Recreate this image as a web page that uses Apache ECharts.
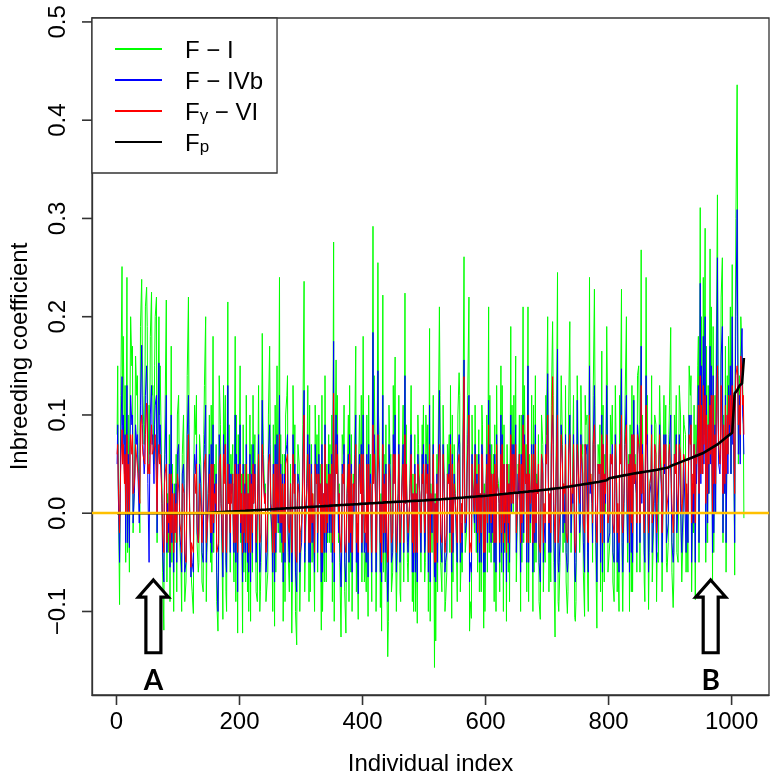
<!DOCTYPE html>
<html><head><meta charset="utf-8">
<script src="https://cdn.jsdelivr.net/npm/echarts@6/dist/echarts.min.js"></script>
<style>html,body{margin:0;padding:0;background:#fff}#c{width:777px;height:781px}</style>
</head><body><div id="c"></div>
<script>
// Individual indices: three interleaved samples of individuals (1,5,9,... / 2,6,10,... / 3,7,11,...) plus the last one
const indexSetA = [];
for (let i = 1; i <= 1017; i += 4) indexSetA.push(i);
indexSetA.push(1020);
const indexSetC = [];
for (let i = 2; i <= 1018; i += 4) indexSetC.push(i);
const indexSetB = [];
for (let i = 3; i <= 1019; i += 4) indexSetB.push(i);

// F - I (green), set A
const fI_A = [
 0.08,-0.093,0.251,0.07,0.24, -0.06,0.15,0.03,0.12,0.02, 0.238,0.07,0.23,0.11,0.225, 0.05,0.22,0.2,0.06,-0.119, 0.217,-0.04,0.17,-0.1,0.06,
 0.12,-0.06,0.1,-0.07,0.22, -0.04,-0.102,0.08,-0.06,0.05, -0.08,0.2,0.02,-0.05,0.18, 0.01,-0.12,0.09,-0.108,0.12, 0.215,-0.06,0.07,0.18,-0.122,
 0.15,-0.122,0.05,-0.08,0.1, -0.06,0.08,-0.09,-0.1,0.183, 0.02,-0.07,0.17,-0.04,-0.115, 0.15,0.24,-0.05,0.06,0.12, -0.08,-0.122,0.04,-0.134,0.05,
 -0.06,0.236,0.03,-0.09,0.07, -0.05,0.04,0.1,-0.119,0.02, -0.07,0.08,-0.04,0.276,0.156, -0.03,-0.126,0.06,-0.122,0.1, -0.06,0.04,0.17,-0.108,0.03,
 0.18,-0.04,-0.105,0.06,0.292, 0.04,0.255,-0.096,0.222,-0.07, -0.146,0.05,-0.06,0.159,-0.02, -0.08,0.07,0.224,-0.05,0.03, -0.09,0.08,-0.112,0.02,0.09,
 -0.07,0.05,0.188,-0.04,-0.157, 0.06,0.21,-0.08,0.03,-0.06, 0.08,-0.107,0.07,-0.05,0.143, -0.03,0.261,-0.02,0.22,-0.107, 0.05,-0.04,0.085,-0.08,-0.117,
 0.04,0.21,-0.05,0.06,-0.1, 0.03,0.15,-0.1,0.02,-0.06, 0.19,0.0,0.16,0.05,-0.1, 0.21,0.04,0.21,-0.03,-0.1, 0.14,0.02,-0.108,0.07,-0.05,
 0.2,0.02,0.195,-0.126,0.245, -0.05,0.07,-0.03,-0.102,0.195, 0.02,-0.106,0.14,-0.04,0.06, -0.105,0.1,0.24,0.01,0.228, -0.117,0.05,0.165,-0.07,0.19,
 -0.06,0.07,-0.09,0.03,-0.1, 0.228,0.01,0.2,0.06,-0.08, 0.12,0.02,0.15,0.268,0.0, 0.24,-0.098,0.04,-0.07,0.09, -0.05,0.06,-0.08,0.11,-0.03,
 0.189,-0.096,0.06,-0.05,0.1, -0.02,0.08,-0.06,0.12,0.03, -0.088,0.15,0.311,0.05,0.29, -0.03,0.269,-0.068,0.12,0.324, 0.05,0.26,0.02,0.14,0.1,
 0.253,-0.063,0.436,0.14,0.16,-0.005
];
// F - I (green), set B
const fI_B = [
 0.03,0.12,0.18,-0.05,0.1, 0.2,-0.02,0.16,0.06,0.19, 0.12,0.21,0.04,0.18,0.13, 0.2,0.08,0.15,-0.06,0.1, 0.02,-0.09,0.05,-0.03,0.1,
 -0.03,0.06,-0.09,0.14,0.0, -0.08,0.11,-0.03,0.08,-0.07, 0.13,-0.04,0.1,-0.06,0.05, -0.09,0.14,-0.02,0.06,-0.1, 0.09,0.03,-0.07,0.1,0.0,
 0.04,-0.06,0.12,-0.1,0.07, 0.01,-0.08,0.13,-0.05,0.06, -0.09,0.1,0.0,0.09,-0.06, -0.02,0.08,-0.11,0.1,-0.04, 0.05,0.13,-0.1,0.07,-0.06,
 0.09,-0.04,0.13,-0.08,0.02, 0.11,-0.06,0.05,-0.1,0.14, -0.03,0.07,-0.09,0.04,0.12, -0.05,0.08,-0.08,0.03,0.13, -0.1,0.06,-0.02,0.1,-0.07,
 -0.07,0.1,0.02,-0.09,0.14, -0.05,0.08,-0.12,0.06,-0.03, 0.11,-0.08,0.05,-0.1,0.12, 0.0,-0.07,0.09,-0.04,0.13, -0.1,0.03,0.07,-0.06,0.11,
 0.1,-0.1,0.03,0.12,-0.13, 0.07,-0.05,0.11,-0.09,0.04, 0.13,-0.07,0.02,0.1,-0.08, 0.06,-0.04,0.12,-0.09,0.05, 0.11,-0.06,0.02,0.09,-0.1,
 -0.06,0.12,-0.03,0.09,0.04, -0.08,0.13,-0.04,0.07,-0.09, 0.11,0.02,-0.07,0.1,-0.05, 0.13,-0.08,0.06,0.12,-0.06, 0.04,-0.09,0.1,-0.03,0.08,
 -0.08,0.11,-0.05,0.08,-0.1, 0.14,0.03,-0.07,0.1,-0.04, 0.12,-0.09,0.05,0.13,-0.06, 0.09,-0.1,0.04,0.12,-0.03, 0.07,-0.08,0.11,0.0,-0.06,
 0.1,-0.07,0.13,-0.04,0.08, -0.1,0.12,-0.05,0.09,-0.08, 0.06,0.14,-0.06,0.1,-0.09, 0.12,0.03,-0.07,0.1,-0.04, 0.13,-0.08,0.05,-0.06,0.11,
 -0.06,0.1,-0.04,0.13,-0.07, 0.09,0.02,0.15,-0.08,0.11, 0.04,-0.05,0.2,0.08,0.17, 0.02,0.21,-0.04,0.16,0.06, 0.22,0.1,-0.06,0.18,0.04,
 0.12,0.3,0.05,0.2,0.1
];
// F - I (green), set C
const fI_C = [
 0.15,0.02,0.09,0.13,-0.04, 0.11,0.17,0.07,0.14,-0.02, 0.16,0.09,0.19,0.06,0.12, 0.15,-0.03,0.1,0.02,0.05, -0.07,0.08,-0.05,0.03,-0.08,
 0.05,-0.1,0.03,-0.02,0.09, -0.07,0.06,0.12,-0.05,0.0, 0.08,-0.09,0.04,0.11,-0.04, 0.07,-0.06,0.02,0.13,-0.08, 0.01,0.06,-0.03,-0.09,0.08,
 -0.03,0.09,-0.07,0.04,-0.11, 0.12,0.0,0.05,-0.08,0.1, 0.03,-0.06,0.07,-0.1,0.11, 0.02,-0.04,0.06,-0.09,0.14, -0.02,-0.07,0.09,0.01,-0.1,
 0.02,-0.08,0.06,0.11,-0.05, -0.1,0.08,0.01,0.12,-0.07, 0.05,-0.03,0.1,-0.11,0.07, 0.03,-0.06,0.11,-0.02,-0.09, 0.08,0.0,-0.08,0.06,0.12,
 0.04,-0.08,0.12,-0.03,0.07, -0.1,0.1,0.02,-0.06,0.09, -0.11,0.06,0.13,-0.04,0.03, -0.09,0.11,0.01,-0.07,0.08, 0.04,-0.1,0.1,-0.03,0.05,
 -0.05,0.09,-0.11,0.06,0.02, -0.08,0.12,0.0,-0.1,0.07, -0.04,0.1,0.04,-0.09,0.12, -0.06,0.03,0.08,-0.12,0.1, -0.02,0.06,-0.08,0.11,0.03,
 0.1,-0.04,0.07,-0.09,0.13, 0.01,-0.06,0.09,-0.11,0.05, 0.0,0.12,-0.07,0.04,0.1, -0.03,0.07,-0.09,0.02,0.11, -0.05,0.08,0.0,-0.08,0.12,
 0.06,-0.07,0.12,0.0,-0.09, 0.08,-0.04,0.13,-0.08,0.05, 0.02,-0.11,0.1,-0.02,0.07, 0.12,-0.07,0.03,-0.05,0.11, 0.0,0.09,-0.1,0.06,0.13,
 -0.03,0.11,0.02,-0.08,0.12, -0.05,0.07,0.0,-0.1,0.13, 0.04,-0.06,0.09,0.02,-0.07, 0.11,-0.04,0.14,0.01,-0.09, 0.07,0.03,0.12,-0.05,0.08,
 0.03,-0.07,0.12,0.05,-0.03, 0.1,-0.06,0.07,0.14,-0.02, 0.09,0.18,0.04,0.24,-0.05, 0.13,0.07,0.19,0.0,0.14, 0.08,-0.03,0.17,0.06,0.21,
 0.1,0.18,0.22,0.06,0.13
];
// F - IVb (blue), set A
const fIVb_A = [
 0.05,-0.05,0.139,0.04,0.13, -0.035,0.09,0.02,0.07,-0.01, 0.171,0.04,0.15,-0.05,0.13, 0.03,0.12,0.153,0.04,-0.07, 0.12,-0.02,0.1,-0.06,0.03,
 0.07,-0.04,0.05,-0.05,0.12, -0.065,-0.06,0.04,-0.03,0.03, -0.05,0.11,0.02,-0.03,0.09, 0.0,-0.1,0.05,-0.065,0.07, 0.13,-0.04,0.03,0.1,-0.08,
 0.09,-0.07,0.03,-0.05,0.06, -0.04,0.05,-0.05,-0.06,0.115, 0.01,-0.04,0.09,-0.02,-0.07, 0.08,0.12,-0.03,0.04,0.07, -0.05,-0.07,0.03,-0.08,0.03,
 -0.03,0.125,0.02,-0.05,0.05, -0.03,0.03,0.06,-0.07,0.02, -0.04,0.05,-0.02,0.175,0.1, -0.02,-0.075,0.04,-0.07,0.06, -0.04,0.03,0.1,-0.082,0.02,
 0.1,-0.02,-0.065,0.04,0.184, 0.02,0.145,-0.06,0.12,-0.04, -0.09,0.04,-0.04,0.1,-0.01, -0.05,0.05,0.14,-0.03,0.02, -0.06,0.05,-0.07,0.02,0.06,
 -0.04,0.03,0.11,-0.02,-0.065, 0.04,0.125,-0.05,0.02,-0.04, 0.05,-0.06,0.04,-0.03,0.08, -0.01,0.156,-0.01,0.12,-0.06, 0.03,-0.02,0.06,-0.05,-0.06,
 0.03,0.115,-0.03,0.04,-0.06, 0.02,0.1,-0.06,0.02,-0.03, 0.1,0.01,0.09,0.04,-0.06, 0.1,0.03,0.15,-0.01,-0.06, 0.09,0.02,-0.07,0.05,-0.03,
 0.142,0.02,0.1,-0.07,0.167, -0.03,0.05,-0.01,-0.06,0.1, 0.02,-0.06,0.115,-0.02,0.04, -0.06,0.07,0.15,0.01,0.13, -0.07,0.04,0.1,-0.03,0.13,
 -0.03,0.05,-0.05,0.03,-0.06, 0.147,0.01,0.12,0.05,-0.04, 0.115,0.02,0.09,0.17,0.01, 0.14,-0.06,0.03,-0.04,0.07, -0.02,0.04,-0.05,0.08,-0.01,
 0.1,-0.05,0.05,-0.02,0.08, 0.0,0.06,-0.03,0.08,0.03, -0.05,0.1,0.234,0.04,0.2, -0.01,0.17,-0.04,0.09,0.26, 0.04,0.19,0.02,0.1,0.08,
 0.2,-0.03,0.309,0.12,0.188,0.06
];
// F - IVb (blue), set B
const fIVb_B = [
 0.02,0.07,0.1,-0.03,0.06, 0.12,-0.01,0.09,0.04,0.11, 0.07,0.12,0.03,0.1,0.08, 0.11,0.05,0.09,-0.04,0.06, 0.01,-0.055,0.03,-0.02,0.06,
 -0.02,0.04,-0.06,0.08,0.0, -0.05,0.06,-0.02,0.05,-0.04, 0.07,-0.03,0.06,-0.04,0.03, -0.06,0.08,-0.01,0.04,-0.06, 0.05,0.02,-0.04,0.06,0.0,
 0.02,-0.04,0.07,-0.06,0.04, 0.01,-0.05,0.08,-0.03,0.04, -0.06,0.06,0.0,0.05,-0.04, -0.01,0.05,-0.07,0.06,-0.02, 0.03,0.08,-0.06,0.04,-0.04,
 0.05,-0.02,0.08,-0.05,0.01, 0.07,-0.04,0.03,-0.06,0.09, -0.02,0.04,-0.05,0.03,0.08, -0.03,0.05,-0.05,0.02,0.08, -0.06,0.04,-0.01,0.06,-0.04,
 -0.04,0.06,0.01,-0.06,0.08, -0.03,0.05,-0.07,0.04,-0.02, 0.07,-0.05,0.03,-0.06,0.07, 0.0,-0.04,0.05,-0.02,0.08, -0.06,0.02,0.04,-0.04,0.07,
 0.06,-0.06,0.02,0.07,-0.07, 0.04,-0.03,0.07,-0.05,0.03, 0.08,-0.04,0.01,0.06,-0.05, 0.04,-0.02,0.07,-0.05,0.03, 0.07,-0.04,0.02,0.06,-0.06,
 -0.03,0.07,-0.02,0.06,0.03, -0.05,0.08,-0.02,0.05,-0.05, 0.07,0.02,-0.04,0.06,-0.03, 0.08,-0.05,0.04,0.07,-0.03, 0.03,-0.05,0.06,-0.01,0.05,
 -0.04,0.07,-0.02,0.05,-0.06, 0.09,0.02,-0.04,0.06,-0.02, 0.08,-0.05,0.04,0.08,-0.03, 0.06,-0.06,0.03,0.07,-0.01, 0.05,-0.05,0.07,0.01,-0.03,
 0.06,-0.04,0.08,-0.02,0.05, -0.06,0.08,-0.03,0.06,-0.05, 0.04,0.09,-0.03,0.07,-0.05, 0.08,0.02,-0.04,0.07,-0.02, 0.09,-0.05,0.04,-0.03,0.07,
 -0.03,0.06,-0.02,0.08,-0.04, 0.06,0.02,0.1,-0.05,0.07, 0.03,-0.03,0.15,0.05,0.12, 0.02,0.15,-0.02,0.11,0.05, 0.16,0.07,-0.03,0.13,0.04,
 0.09,0.2,0.06,0.15,0.09
];
// F - IVb (blue), set C
const fIVb_C = [
 0.09,0.01,0.05,0.08,-0.03, 0.07,0.1,0.04,0.08,-0.01, 0.09,0.05,0.11,0.04,0.07, 0.09,-0.02,0.06,0.01,0.03, -0.04,0.05,-0.03,0.02,-0.05,
 0.03,-0.06,0.02,-0.01,0.05, -0.04,0.04,0.07,-0.03,0.0, 0.05,-0.05,0.02,0.07,-0.02, 0.04,-0.04,0.01,0.08,-0.05, 0.01,0.04,-0.02,-0.05,0.05,
 -0.02,0.05,-0.04,0.02,-0.07, 0.07,0.0,0.03,-0.05,0.06, 0.02,-0.04,0.04,-0.06,0.07, 0.01,-0.02,0.04,-0.05,0.08, -0.01,-0.04,0.05,0.01,-0.06,
 0.01,-0.05,0.04,0.07,-0.03, -0.06,0.05,0.01,0.07,-0.04, 0.03,-0.02,0.06,-0.07,0.04, 0.02,-0.04,0.07,-0.01,-0.05, 0.05,0.0,-0.05,0.04,0.07,
 0.02,-0.05,0.07,-0.02,0.04, -0.06,0.06,0.01,-0.04,0.05, -0.07,0.04,0.08,-0.02,0.02, -0.05,0.07,0.01,-0.04,0.05, 0.02,-0.06,0.06,-0.02,0.03,
 -0.03,0.05,-0.07,0.04,0.01, -0.05,0.07,0.0,-0.06,0.04, -0.02,0.06,0.02,-0.05,0.07, -0.04,0.02,0.05,-0.07,0.06, -0.01,0.04,-0.05,0.07,0.02,
 0.06,-0.02,0.04,-0.05,0.08, 0.01,-0.04,0.05,-0.07,0.03, 0.0,0.07,-0.04,0.02,0.06, -0.02,0.04,-0.05,0.01,0.07, -0.03,0.05,0.0,-0.05,0.07,
 0.04,-0.04,0.07,0.0,-0.05, 0.05,-0.02,0.08,-0.05,0.03, 0.01,-0.07,0.06,-0.01,0.04, 0.07,-0.04,0.02,-0.03,0.07, 0.0,0.05,-0.06,0.04,0.08,
 -0.02,0.07,0.01,-0.05,0.07, -0.03,0.04,0.0,-0.06,0.08, 0.03,-0.04,0.06,0.01,-0.04, 0.07,-0.02,0.09,0.01,-0.05, 0.05,0.02,0.08,-0.03,0.05,
 0.02,-0.04,0.08,0.03,-0.02, 0.06,-0.04,0.05,0.1,-0.01, 0.06,0.13,0.03,0.18,-0.03, 0.09,0.05,0.14,0.0,0.1, 0.06,-0.02,0.12,0.04,0.15,
 0.07,0.13,0.16,0.05,0.1
];
// F_gamma - VI (red), set A
const fGammaVI_A = [
 0.06,-0.02,0.085,0.03,0.08, 0.0,0.06,0.03,0.07,0.04, 0.1,0.06,0.112,0.05,0.09, 0.06,0.08,0.07,0.03,-0.04, 0.05,-0.01,0.04,-0.04,0.01,
 0.04,-0.02,0.03,-0.05,0.08, -0.055,-0.04,0.02,-0.03,0.03, -0.03,0.06,0.0,-0.02,0.05, 0.01,-0.04,0.06,-0.04,0.07, 0.05,-0.02,0.04,0.05,-0.04,
 0.05,-0.04,0.02,-0.03,0.04, -0.02,0.04,-0.03,-0.03,0.07, 0.01,-0.02,0.06,0.0,-0.04, 0.05,0.08,-0.01,0.03,0.05, -0.02,-0.04,0.02,-0.05,0.02,
 -0.01,0.1,0.02,-0.03,0.04, -0.01,0.03,0.04,-0.04,0.02, -0.02,0.04,0.0,0.122,0.07, 0.0,-0.04,0.03,-0.04,0.05, -0.02,0.03,0.07,-0.04,0.02,
 0.06,0.0,-0.04,0.03,0.09, 0.02,0.08,-0.03,0.07,-0.02, -0.05,0.03,-0.02,0.06,0.01, -0.03,0.04,0.08,-0.01,0.02, -0.03,0.04,-0.04,0.02,0.04,
 -0.02,0.02,0.07,0.0,-0.05, 0.03,0.07,-0.03,0.02,-0.02, 0.04,-0.04,0.03,-0.01,0.06, 0.01,0.139,0.0,0.1,-0.04, 0.03,0.0,0.05,-0.02,-0.04,
 0.03,0.09,-0.01,0.04,-0.03, 0.02,0.06,-0.03,0.02,-0.01, 0.08,0.01,0.07,0.03,-0.03, 0.09,0.03,0.1,0.01,-0.03, 0.07,0.02,-0.04,0.04,-0.01,
 0.1,0.02,0.139,-0.03,0.1, 0.0,0.05,0.02,-0.03,0.08, 0.03,-0.03,0.07,0.01,0.05, -0.02,0.06,0.1,0.02,0.09, -0.03,0.04,0.08,0.0,0.08,
 0.0,0.05,-0.02,0.03,-0.03, 0.1,0.02,0.09,0.05,-0.01, 0.08,0.03,0.07,0.13,0.02, 0.11,-0.02,0.04,-0.01,0.06, 0.01,0.04,-0.02,0.07,0.02,
 0.07,-0.02,0.04,0.0,0.06, 0.02,0.05,0.0,0.07,0.04, -0.01,0.08,0.14,0.04,0.12, 0.02,0.11,0.0,0.08,0.15, 0.05,0.13,0.03,0.1,0.09,
 0.13,0.02,0.15,0.11,0.14,0.08
];
// F_gamma - VI (red), set B
const fGammaVI_B = [
 0.03,0.05,0.07,0.0,0.05, 0.08,0.02,0.07,0.04,0.09, 0.06,0.08,0.04,0.07,0.06, 0.08,0.05,0.06,-0.02,0.04, 0.0,-0.04,0.02,-0.02,0.04,
 -0.01,0.03,-0.04,0.05,0.0, -0.03,0.04,-0.01,0.03,-0.03, 0.05,-0.02,0.04,-0.02,0.02, -0.04,0.05,0.0,0.03,-0.04, 0.03,0.01,-0.03,0.04,0.0,
 0.02,-0.02,0.05,-0.04,0.03, 0.01,-0.03,0.06,-0.02,0.03, -0.04,0.05,0.01,0.04,-0.02, 0.0,0.04,-0.04,0.05,-0.01, 0.03,0.06,-0.04,0.03,-0.02,
 0.04,0.0,0.06,-0.03,0.02, 0.05,-0.02,0.03,-0.04,0.07, -0.01,0.04,-0.03,0.02,0.06, -0.02,0.04,-0.03,0.02,0.06, -0.04,0.03,0.0,0.05,-0.03,
 -0.02,0.05,0.01,-0.04,0.06, -0.01,0.04,-0.05,0.03,0.0, 0.05,-0.03,0.03,-0.04,0.06, 0.01,-0.03,0.05,-0.01,0.06, -0.04,0.02,0.04,-0.02,0.05,
 0.05,-0.04,0.02,0.06,-0.05, 0.04,-0.02,0.06,-0.03,0.03, 0.07,-0.02,0.02,0.05,-0.03, 0.04,-0.01,0.06,-0.03,0.03, 0.06,-0.02,0.02,0.05,-0.04,
 -0.01,0.06,0.0,0.05,0.03, -0.03,0.07,-0.01,0.05,-0.03, 0.06,0.02,-0.02,0.06,-0.01, 0.07,-0.03,0.04,0.06,-0.02, 0.03,-0.03,0.06,0.01,0.05,
 -0.01,0.06,0.01,0.05,-0.03, 0.08,0.03,-0.02,0.06,0.0, 0.07,-0.03,0.04,0.07,-0.01, 0.06,-0.03,0.04,0.07,0.01, 0.05,-0.02,0.07,0.02,-0.01,
 0.06,-0.01,0.07,0.01,0.05, -0.02,0.07,0.0,0.06,-0.02, 0.05,0.08,-0.01,0.06,-0.02, 0.07,0.03,-0.01,0.07,0.01, 0.08,-0.02,0.05,0.0,0.07,
 0.01,0.06,0.02,0.07,0.0, 0.06,0.03,0.08,-0.01,0.07, 0.05,0.02,0.11,0.07,0.1, 0.05,0.12,0.03,0.1,0.07, 0.13,0.09,0.04,0.12,0.08,
 0.1,0.14,0.09,0.16,0.12
];
// F_gamma - VI (red), set C
const fGammaVI_C = [
 0.07,0.02,0.05,0.06,0.0, 0.06,0.08,0.04,0.07,0.01, 0.07,0.05,0.09,0.04,0.06, 0.07,0.0,0.05,0.01,0.03, -0.03,0.04,-0.02,0.02,-0.03,
 0.02,-0.04,0.02,0.0,0.04, -0.03,0.03,0.05,-0.02,0.0, 0.04,-0.03,0.02,0.05,-0.01, 0.03,-0.03,0.01,0.06,-0.03, 0.01,0.03,-0.01,-0.03,0.04,
 -0.01,0.04,-0.03,0.02,-0.04, 0.05,0.01,0.03,-0.03,0.05, 0.02,-0.02,0.04,-0.04,0.05, 0.01,-0.01,0.03,-0.03,0.06, 0.0,-0.02,0.04,0.01,-0.04,
 0.01,-0.03,0.03,0.05,-0.01, -0.04,0.04,0.01,0.05,-0.02, 0.03,0.0,0.05,-0.04,0.04, 0.02,-0.02,0.05,0.0,-0.03, 0.04,0.01,-0.03,0.03,0.06,
 0.02,-0.03,0.05,0.0,0.03, -0.04,0.05,0.01,-0.02,0.04, -0.04,0.03,0.06,-0.01,0.02, -0.03,0.05,0.01,-0.02,0.04, 0.02,-0.04,0.05,0.0,0.03,
 -0.01,0.04,-0.04,0.03,0.01, -0.03,0.06,0.01,-0.04,0.04, 0.0,0.05,0.02,-0.03,0.06, -0.02,0.02,0.04,-0.04,0.05, 0.0,0.03,-0.03,0.06,0.02,
 0.05,0.0,0.04,-0.03,0.07, 0.01,-0.02,0.05,-0.04,0.03, 0.01,0.06,-0.02,0.03,0.05, 0.0,0.04,-0.03,0.02,0.06, -0.01,0.05,0.01,-0.03,0.06,
 0.04,-0.02,0.06,0.01,-0.03, 0.05,0.0,0.07,-0.02,0.04, 0.02,-0.04,0.06,0.01,0.04, 0.07,-0.02,0.03,-0.01,0.06, 0.01,0.05,-0.03,0.04,0.07,
 0.0,0.06,0.02,-0.02,0.07, -0.01,0.05,0.02,-0.03,0.08, 0.03,-0.01,0.06,0.02,-0.02, 0.07,0.0,0.08,0.02,-0.02, 0.06,0.03,0.07,0.0,0.06,
 0.03,-0.01,0.07,0.04,0.01, 0.06,0.0,0.05,0.09,0.02, 0.06,0.11,0.04,0.13,0.01, 0.09,0.06,0.12,0.03,0.1, 0.07,0.02,0.11,0.06,0.12,
 0.09,0.12,0.14,0.08,0.11
];
// F_p (black, pedigree), on set A indices
const fP = [
 0,0,0,0,0, 0,0,0,0,0, 0,0,0,0,0, 0,0,0,0,0, 0,0,0,0,0,
 0,0,0,0,0, 0,0,0,0,0, 0,0,0.0003,0.0005,0.0007, 0.0009,0.001,0.0012,0.0013,0.0015, 0.0016,0.0017,0.0018,0.0019,0.002,
 0.0021,0.0023,0.0024,0.0026,0.0027, 0.0029,0.003,0.0032,0.0033,0.0035, 0.0036,0.0038,0.0039,0.0041,0.0042, 0.0044,0.0045,0.0047,0.0048,0.005, 0.0051,0.0053,0.0054,0.0056,0.0057,
 0.0059,0.006,0.0062,0.0063,0.0065, 0.0066,0.0068,0.0069,0.0071,0.0072, 0.0074,0.0075,0.0077,0.0078,0.008, 0.0081,0.0083,0.0084,0.0086,0.0087, 0.0089,0.009,0.0092,0.0093,0.0095,
 0.0096,0.0098,0.0099,0.0101,0.0102, 0.0104,0.0105,0.0107,0.0108,0.011, 0.0111,0.0112,0.0114,0.0115,0.0116, 0.0118,0.0119,0.012,0.0122,0.0123, 0.0124,0.0126,0.0127,0.0128,0.013,
 0.0131,0.0133,0.0134,0.0136,0.0137, 0.0139,0.014,0.0142,0.0144,0.0146, 0.0148,0.015,0.0152,0.0154,0.0156, 0.0158,0.016,0.0162,0.0164,0.0166, 0.0168,0.017,0.0172,0.0174,0.0176,
 0.0178,0.018,0.0183,0.0185,0.0188, 0.019,0.0193,0.0195,0.0198,0.02, 0.0203,0.0205,0.0208,0.021,0.0213, 0.0215,0.0218,0.022,0.0223,0.0225, 0.0228,0.023,0.0233,0.0236,0.0239,
 0.0242,0.0245,0.0248,0.0251,0.0254, 0.0257,0.026,0.0264,0.0268,0.0272, 0.0276,0.028,0.0284,0.0288,0.0292, 0.0296,0.03,0.0304,0.0308,0.0312, 0.0316,0.032,0.0325,0.033,0.0335,
 0.0355,0.036,0.0365,0.037,0.0375, 0.038,0.0385,0.039,0.0395,0.04, 0.0404,0.0408,0.0412,0.0416,0.042, 0.0424,0.0428,0.0432,0.0436,0.044, 0.0445,0.045,0.0455,0.046,0.0466,
 0.048,0.049,0.05,0.051,0.052, 0.053,0.054,0.055,0.056,0.057, 0.058,0.059,0.06,0.061,0.0625, 0.064,0.0655,0.067,0.0685,0.07, 0.072,0.074,0.076,0.078,0.08,
 0.082,0.122,0.125,0.13,0.132,0.158
];

const seriesNames = ['F − I', 'F − IVb', 'Fγ − VI', 'Fp'];
const seriesColors = ['#00ff00', '#0000ff', '#ff0000', '#000000'];
const xTicks = [0, 200, 400, 600, 800, 1000];
const yTicks = [-0.1, 0, 0.1, 0.2, 0.3, 0.4, 0.5];
const xRange = [-39.8, 1060.8];
const yRange = [-0.185, 0.504];
const referenceLineY = 0;
const arrowX = [60, 966];
const arrowLabels = ['A', 'B'];
const arrowTopY = -0.068, arrowBottomY = -0.142, arrowLabelY = -0.171;

// sanity check of array lengths
[[fI_A, 256], [fIVb_A, 256], [fGammaVI_A, 256], [fP, 256],
 [fI_B, 255], [fIVb_B, 255], [fGammaVI_B, 255],
 [fI_C, 255], [fIVb_C, 255], [fGammaVI_C, 255]].forEach(([a, n], k) => {
  if (a.length !== n) throw new Error('array ' + k + ' has length ' + a.length + ' expected ' + n);
});

const FONT = '"Liberation Sans", Arial, Helvetica, sans-serif';
// merge the interleaved samples into one ordered list of [index, value]
function merge(a, c, b) {
  const out = [];
  for (let i = 0; i < indexSetA.length; i++) {
    out.push([indexSetA[i], a[i]]);
    if (i < indexSetC.length) out.push([indexSetC[i], c[i]]);
    if (i < indexSetB.length) out.push([indexSetB[i], b[i]]);
  }
  return out;
}
const seriesData = [
  merge(fI_A, fI_C, fI_B),
  merge(fIVb_A, fIVb_C, fIVb_B),
  merge(fGammaVI_A, fGammaVI_C, fGammaVI_B),
  indexSetA.map((x, i) => [x, fP[i]])
];

const chart = echarts.init(document.getElementById('c'), null, {renderer: 'canvas'});

const legendRich = {
  m: {fontSize: 24, fontFamily: FONT, color: '#000', lineHeight: 28, verticalAlign: 'bottom'},
  s: {fontSize: 17, fontFamily: FONT, color: '#000', lineHeight: 17, verticalAlign: 'bottom'}
};
const legendLabel = {
  'F − I': '{m|F − I}',
  'F − IVb': '{m|F − IVb}',
  'Fγ − VI': '{m|F}{s|γ}{m| − VI}',
  'Fp': '{m|F}{s|p}'
};

const series = seriesData.map((d, k) => ({
  name: seriesNames[k],
  type: 'line',
  data: d,
  showSymbol: false,
  symbol: 'none',
  silent: true,
  lineStyle: {color: seriesColors[k], width: k === 3 ? 2.6 : 1.0},
  itemStyle: {color: seriesColors[k]},
  z: 2 + k
}));
// zero reference line drawn on top of everything
series.push({
  name: 'zero', type: 'line', data: [], silent: true, z: 10,
  markLine: {
    silent: true, symbol: ['none', 'none'], label: {show: false}, z: 10,
    lineStyle: {color: '#ffc000', width: 2.4, type: 'solid'},
    data: [{yAxis: referenceLineY}]
  }
});

const axisLineStyle = {show: true, onZero: false, lineStyle: {color: '#333', width: 1.3}};

chart.setOption({
  animation: false,
  backgroundColor: '#fff',
  grid: {left: 92, top: 18, right: 8, bottom: 86, show: true, borderColor: '#333', borderWidth: 1.3, backgroundColor: 'transparent'},
  legend: {
    orient: 'vertical', left: 92, top: 18,
    padding: [21, 14, 17, 23],
    itemGap: 7, itemWidth: 47, itemHeight: 2, icon: 'rect',
    backgroundColor: '#fff', borderColor: '#333', borderWidth: 1.3, borderRadius: 0,
    data: seriesNames,
    formatter: n => legendLabel[n],
    textStyle: {fontSize: 24, fontFamily: FONT, color: '#000', padding: [0, 0, 0, 18], rich: legendRich},
    selectedMode: false, z: 20
  },
  xAxis: {
    type: 'value', min: xRange[0], max: xRange[1],
    name: 'Individual index', nameLocation: 'middle', nameGap: 57,
    nameTextStyle: {fontSize: 24, fontFamily: FONT, color: '#000'},
    axisLine: axisLineStyle,
    axisTick: {show: false},
    axisLabel: {fontSize: 24, fontFamily: FONT, color: '#000', margin: 15, customValues: xTicks, formatter: v => String(v)},
    splitLine: {show: false}
  },
  yAxis: {
    type: 'value', min: yRange[0], max: yRange[1],
    name: 'Inbreeding coefficient', nameLocation: 'middle', nameGap: 60, nameRotate: 90,
    nameTextStyle: {fontSize: 24, fontFamily: FONT, color: '#000'},
    axisLine: axisLineStyle,
    axisTick: {show: false},
    axisLabel: {fontSize: 24, fontFamily: FONT, color: '#000', margin: 22, rotate: 90, customValues: yTicks,
      formatter: v => (v < -1e-9 ? '−' : '') + Math.abs(v).toFixed(1)},
    splitLine: {show: false}
  },
  series: series
});

// Tick marks and annotation arrows, positioned through the chart's own scales
const graphics = [];
const TICK = 10, TW = 1.6;
yTicks.forEach(v => {
  const p = chart.convertToPixel({gridIndex: 0}, [xRange[0], v]);
  graphics.push({type: 'rect', z: 100, silent: true,
    shape: {x: Math.round(p[0]) - TICK, y: p[1] - TW / 2, width: TICK, height: TW},
    style: {fill: '#333'}});
});
xTicks.forEach(v => {
  const p = chart.convertToPixel({gridIndex: 0}, [v, yRange[0]]);
  graphics.push({type: 'rect', z: 100, silent: true,
    shape: {x: p[0] - TW / 2, y: Math.round(p[1]), width: TW, height: TICK},
    style: {fill: '#333'}});
});
arrowX.forEach((ax, i) => {
  const top = chart.convertToPixel({gridIndex: 0}, [ax, arrowTopY]);
  const bot = chart.convertToPixel({gridIndex: 0}, [ax, arrowBottomY]);
  const lab = chart.convertToPixel({gridIndex: 0}, [ax, arrowLabelY]);
  const cx = top[0], ty = top[1], by = bot[1];
  const hw = 15, sw = 7.5, hh = 17;
  graphics.push({
    type: 'polygon', z: 30,
    shape: {points: [[cx, ty], [cx + hw, ty + hh], [cx + sw, ty + hh], [cx + sw, by], [cx - sw, by], [cx - sw, ty + hh], [cx - hw, ty + hh]]},
    style: {fill: '#fff', stroke: '#000', lineWidth: 3.2, lineJoin: 'miter'}
  });
  graphics.push({
    type: 'text', z: 30, x: lab[0], y: lab[1],
    style: {text: arrowLabels[i], font: 'bold 28px Lato, "Liberation Sans", sans-serif', fill: '#000', textAlign: 'center', textVerticalAlign: 'middle'}
  });
});
chart.setOption({graphic: graphics});
</script>
</body></html>
